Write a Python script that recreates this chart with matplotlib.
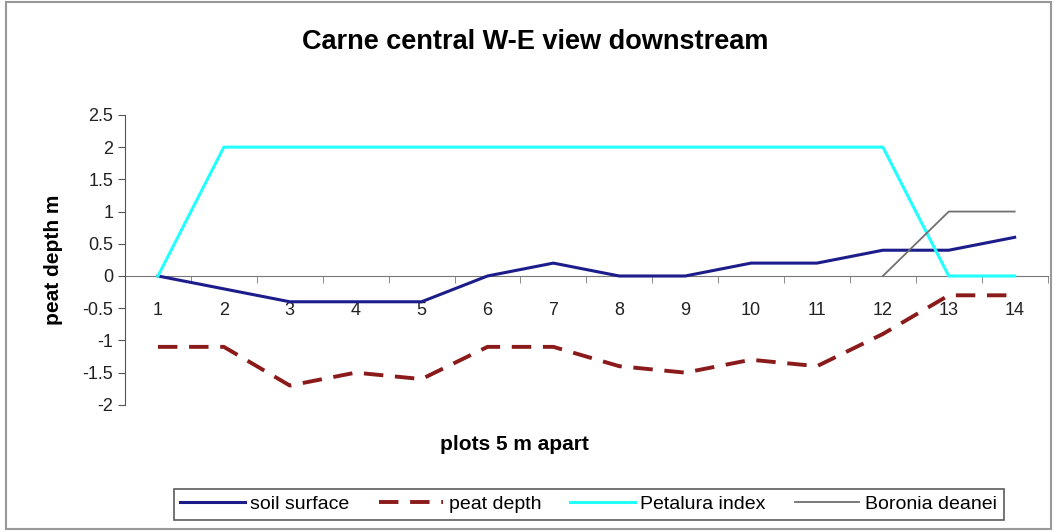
import numpy as np
import matplotlib.pyplot as plt
from matplotlib.patches import Rectangle

plots = list(range(1, 15))
soil_surface = [0, -0.2, -0.4, -0.4, -0.4, 0, 0.2, 0, 0, 0.2, 0.2, 0.4, 0.4, 0.6]
peat_depth = [-1.1, -1.1, -1.7, -1.5, -1.6, -1.1, -1.1, -1.4, -1.5, -1.3, -1.4, -0.9, -0.3, -0.3]
petalura_index = [0, 2, 2, 2, 2, 2, 2, 2, 2, 2, 2, 2, 0, 0]
boronia_deanei = [np.nan] * 11 + [0, 1, 1]

plt.rcParams['font.family'] = ['Liberation Sans', 'DejaVu Sans']

fig = plt.figure(figsize=(10.55, 5.32), dpi=100)
fig.patches.append(Rectangle((0.006, 0.006), 0.99, 0.99, transform=fig.transFigure,
                             fill=False, edgecolor='#999999', linewidth=1.5))
ax = fig.add_axes([0.1185, 0.239, 0.8745, 0.545])

ax.plot(plots, soil_surface, color='#1c1c8a', linewidth=2.2, label='soil surface')
ax.plot(plots, peat_depth, color='#8b1a1a', linewidth=2.8, dashes=(5, 3), label='peat depth')
ax.plot(plots, petalura_index, color='#22ffff', linewidth=2.2, label='Petalura index')
ax.plot(plots, boronia_deanei, color='#707070', linewidth=1.3, label='Boronia deanei')

ax.set_xlim(0.5, 14.5)
ax.set_ylim(-2, 2.5)
ax.set_yticks(np.arange(-2, 2.51, 0.5))
ax.set_yticklabels(['-2', '-1.5', '-1', '-0.5', '0', '0.5', '1', '1.5', '2', '2.5'])

ax.spines['top'].set_visible(False)
ax.spines['right'].set_visible(False)
ax.spines['bottom'].set_position(('data', 0))
ax.spines['bottom'].set_color('#777777')
ax.spines['left'].set_color('#555555')
ax.spines['bottom'].set_zorder(0)

ax.set_xticks(plots)
ax.set_xticklabels([str(p) for p in plots])
ax.set_xticks(np.arange(1.5, 14.6, 1), minor=True)
ax.tick_params(axis='x', which='major', length=0, pad=19, labelsize=13, colors='#222222')
ax.tick_params(axis='x', which='minor', length=5, direction='out', color='#777777')
ax.tick_params(axis='y', length=5, direction='out', color='#555555', labelsize=13, labelcolor='#222222')

ax.set_ylabel('peat depth m', fontsize=15, fontweight='bold', labelpad=14)
fig.text(0.488, 0.165, 'plots 5 m apart', ha='center', va='center', fontsize=15, fontweight='bold')
fig.text(0.507, 0.921, 'Carne central W-E view downstream', ha='center', va='center',
         fontsize=19.5, fontweight='bold')

leg = fig.legend(loc='center', bbox_to_anchor=(0.558, 0.052), ncol=4, fontsize=14,
                 frameon=True, fancybox=False, edgecolor='#333333', handlelength=3.3,
                 handletextpad=0.3, columnspacing=1.5, borderpad=0.35)
leg.get_frame().set_linewidth(1.2)

fig.savefig('out.png', dpi=100)
